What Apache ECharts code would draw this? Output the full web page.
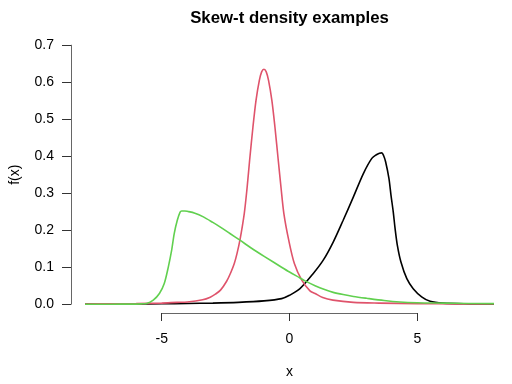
<!DOCTYPE html>
<html><head><meta charset="utf-8">
<script src="https://cdn.jsdelivr.net/npm/echarts@6/dist/echarts.min.js"></script>
<style>html,body{margin:0;padding:0;background:#fff}#c{width:512px;height:384px}</style>
</head><body><div id="c"></div>
<script>
// ---- data ----
const blackX = [-8, -6, -5, -4, -3, -2, -1, -0.31, 0, 0.41, 0.93, 1.32, 1.71, 2.10, 2.50, 2.89, 3.22, 3.4, 3.52, 3.61, 3.68, 3.76, 3.89, 3.97, 4.06, 4.13, 4.22, 4.36, 4.59, 4.84, 5.17, 5.5, 6, 7, 8];
const blackY = [0.0003, 0.0008, 0.0012, 0.002, 0.003, 0.005, 0.009, 0.015, 0.024, 0.042, 0.083, 0.119, 0.168, 0.227, 0.290, 0.353, 0.394, 0.404, 0.408, 0.409, 0.402, 0.385, 0.340, 0.295, 0.249, 0.205, 0.159, 0.114, 0.069, 0.042, 0.020, 0.008, 0.003, 0.001, 0.0003];

const redX = [-8, -7, -6, -5, -4.4, -4, -3.4, -3.1, -2.9, -2.7, -2.46, -2.3, -2.16, -2.05, -1.94, -1.77, -1.66, -1.56, -1.43, -1.31, -1.18, -1.09, -1.0, -0.91, -0.82, -0.69, -0.57, -0.44, -0.33, -0.22, -0.03, 0.19, 0.48, 0.8, 1.0, 1.3, 1.7, 2.5, 3.5, 5, 6.5, 8];
const redY = [0.0005, 0.001, 0.0015, 0.003, 0.005, 0.006, 0.012, 0.019, 0.027, 0.038, 0.062, 0.085, 0.11, 0.138, 0.173, 0.245, 0.314, 0.389, 0.479, 0.551, 0.605, 0.628, 0.635, 0.628, 0.605, 0.551, 0.479, 0.389, 0.314, 0.245, 0.173, 0.11, 0.065, 0.036, 0.029, 0.018, 0.011, 0.005, 0.003, 0.0015, 0.001, 0.0005];

const greenX = [-8, -7, -6.2, -5.8, -5.59, -5.33, -5.09, -4.90, -4.74, -4.61, -4.51, -4.39, -4.28, -4.22, -4.1, -4.0, -3.7, -3.37, -3.0, -2.72, -2.33, -1.94, -1.5, -0.96, -0.31, 0, 0.41, 0.61, 1.0, 1.4, 1.71, 2.1, 2.5, 3.02, 3.7, 4.32, 5, 6, 7, 8];
const greenY = [0, 0, 0.0003, 0.001, 0.002, 0.011, 0.029, 0.056, 0.101, 0.146, 0.191, 0.227, 0.249, 0.252, 0.252, 0.251, 0.246, 0.236, 0.221, 0.209, 0.191, 0.173, 0.152, 0.128, 0.100, 0.087, 0.071, 0.063, 0.050, 0.039, 0.032, 0.026, 0.021, 0.016, 0.010, 0.006, 0.004, 0.003, 0.002, 0.0015];

const xTicks = [-5, 0, 5];
const yTicks = [0.0, 0.1, 0.2, 0.3, 0.4, 0.5, 0.6, 0.7];

const titleText = 'Skew-t density examples';
const xTitle = 'x';
const yTitle = 'f(x)';

// ---- layout ----
const X0 = 289.5, SX = 25.56;   // pixel of x=0, pixels per unit
const Y0 = 304.2, SY = 370;     // pixel of y=0, pixels per unit
const XMIN = -8.64, XMAX = 8.64, YMIN = -0.028, YMAX = 0.728;
const F = '"Liberation Sans", Arial, Helvetica, sans-serif';

function pairs(xs, ys) { return xs.map((x, i) => [x, ys[i]]); }

const plotLeft = X0 + XMIN * SX, plotW = (XMAX - XMIN) * SX;
const plotTop = Y0 - YMAX * SY, plotH = (YMAX - YMIN) * SY;
const xT0 = xTicks[0], xT1 = xTicks[xTicks.length - 1];
const yT0 = yTicks[0], yT1 = yTicks[yTicks.length - 1];

const chart = echarts.init(document.getElementById('c'), null, { renderer: 'canvas' });

const axisLineStyle = { color: '#666', width: 1 };
const tickStyle = { color: '#333', width: 1 };
const labelStyle = { color: '#000', fontFamily: F, fontSize: 14 };

function line(name, xs, ys, color) {
  return {
    name: name, type: 'line', xAxisIndex: 0, yAxisIndex: 0,
    data: pairs(xs, ys), showSymbol: false, symbol: 'none',
    smooth: 0.3, clip: true,
    lineStyle: { color: color, width: 1.6 },
    itemStyle: { color: color }
  };
}

chart.setOption({
  animation: false,
  backgroundColor: '#ffffff',
  title: {
    text: titleText, left: X0, top: 10, textAlign: 'center', padding: 0,
    textStyle: { fontFamily: F, fontSize: 16.8, fontWeight: 'bold', color: '#000' }
  },
  grid: [
    { left: plotLeft, top: plotTop, width: plotW, height: plotH },
    { left: X0 + xT0 * SX, top: plotTop, width: (xT1 - xT0) * SX, height: plotH },
    { left: plotLeft, top: Y0 - yT1 * SY, width: plotW, height: (yT1 - yT0) * SY }
  ],
  xAxis: [
    { gridIndex: 0, type: 'value', min: XMIN, max: XMAX, show: false },
    {
      gridIndex: 1, type: 'value', min: xT0, max: xT1, interval: 5,
      axisLine: { show: true, lineStyle: axisLineStyle },
      axisTick: { show: true, length: 8, lineStyle: tickStyle },
      axisLabel: Object.assign({ margin: 19 }, labelStyle),
      splitLine: { show: false },
      name: xTitle, nameLocation: 'middle', nameGap: 52,
      nameTextStyle: labelStyle
    },
    { gridIndex: 2, type: 'value', min: 0, max: 1, show: false }
  ],
  yAxis: [
    { gridIndex: 0, type: 'value', min: YMIN, max: YMAX, show: false },
    { gridIndex: 1, type: 'value', min: 0, max: 1, show: false },
    {
      gridIndex: 2, type: 'value', min: yT0, max: yT1, interval: 0.1,
      axisLine: { show: true, lineStyle: axisLineStyle },
      axisTick: { show: true, length: 9, lineStyle: tickStyle },
      axisLabel: Object.assign({ margin: 17, formatter: v => v.toFixed(1) }, labelStyle),
      splitLine: { show: false },
      name: yTitle, nameLocation: 'middle', nameGap: 49, nameRotate: 90,
      nameTextStyle: labelStyle
    }
  ],
  series: [
    line('black', blackX, blackY, '#000000'),
    line('red', redX, redY, '#DF536B'),
    line('green', greenX, greenY, '#61D04F')
  ]
});
</script>
</body></html>
